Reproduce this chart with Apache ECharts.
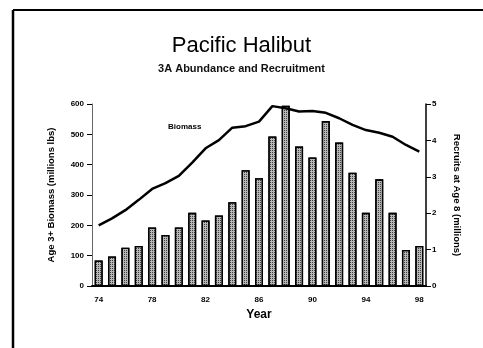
<!DOCTYPE html>
<html>
<head>
<meta charset="utf-8">
<script src="https://cdn.jsdelivr.net/npm/echarts@6/dist/echarts.min.js"></script>
<style>
  html, body { margin: 0; padding: 0; background: #fff; }
  #chart { width: 483px; height: 348px; }
</style>
</head>
<body>
<div id="chart"></div>
<script>
// Survey years (1974–1998)
const years = ['74','75','76','77','78','79','80','81','82','83','84','85','86',
               '87','88','89','90','91','92','93','94','95','96','97','98'];
// Age 3+ biomass, millions of lbs (left axis)
const biomass = [200, 223, 250, 284, 320, 339, 363, 407, 454, 481, 522, 527, 542,
                 593, 586, 575, 577, 571, 553, 531, 514, 505, 492, 465, 443];
// Recruits at age 8, millions (right axis)
const recruits = [0.70, 0.81, 1.05, 1.10, 1.61, 1.40, 1.61, 2.01, 1.80, 1.94, 2.30, 3.18, 2.96,
                  4.11, 4.95, 3.83, 3.53, 4.53, 3.94, 3.11, 2.01, 2.93, 2.01, 0.99, 1.10];
const leftTicks = [0, 100, 200, 300, 400, 500, 600];
const rightTicks = [0, 1, 2, 3, 4, 5];

const chart = echarts.init(document.getElementById('chart'));
const font = 'Liberation Sans, Arial, sans-serif';

chart.setOption({
  animation: false,
  backgroundColor: '#fff',
  title: [
    { text: 'Pacific Halibut', left: 'center', top: 30,
      textStyle: { fontFamily: font, fontSize: 22, fontWeight: 'normal', color: '#000' } },
    { text: '3A Abundance and Recruitment', left: 'center', top: 58,
      textStyle: { fontFamily: font, fontSize: 11, fontWeight: 'bold', color: '#111' } }
  ],
  graphic: [
    { type: 'line', shape: { x1: 13, y1: 10, x2: 483, y2: 10 }, style: { stroke: '#000', lineWidth: 2 } },
    { type: 'line', shape: { x1: 13, y1: 10, x2: 13, y2: 348 }, style: { stroke: '#000', lineWidth: 2.5 } },
    { type: 'text', left: 168, top: 123,
      style: { text: 'Biomass', font: 'bold 8px ' + font, fill: '#000' } }
  ],
  grid: { left: 92, right: 57, top: 104, bottom: 62 },
  xAxis: {
    type: 'category',
    data: years,
    boundaryGap: true,
    name: 'Year',
    nameLocation: 'middle',
    nameGap: 23,
    nameTextStyle: { fontFamily: font, fontSize: 12, fontWeight: 'bold', color: '#000' },
    axisLine: { lineStyle: { color: '#000', width: 2 } },
    axisTick: { alignWithLabel: true, interval: 0, length: 4, lineStyle: { color: '#000' } },
    axisLabel: { interval: 3, fontFamily: font, fontSize: 8, fontWeight: 'bold', color: '#000', margin: 10 }
  },
  yAxis: [
    {
      type: 'value', min: leftTicks[0], max: leftTicks[leftTicks.length - 1], interval: 100,
      name: 'Age 3+ Biomass (millions lbs)',
      nameLocation: 'middle', nameGap: 36, nameRotate: 90,
      nameTextStyle: { fontFamily: font, fontSize: 9.5, fontWeight: 'bold', color: '#000' },
      axisLine: { show: true, lineStyle: { color: '#666', width: 1 } },
      axisTick: { show: true, length: 5, lineStyle: { color: '#000' } },
      axisLabel: { fontFamily: font, fontSize: 8, fontWeight: 'bold', color: '#000', margin: 8 },
      splitLine: { show: false }
    },
    {
      type: 'value', min: rightTicks[0], max: rightTicks[rightTicks.length - 1], interval: 1,
      name: 'Recruits at Age 8 (millions)',
      nameLocation: 'middle', nameGap: 26, nameRotate: -90,
      nameTextStyle: { fontFamily: font, fontSize: 9.5, fontWeight: 'bold', color: '#000' },
      axisLine: { show: true, lineStyle: { color: '#000', width: 1.5 } },
      axisTick: { show: true, length: 5, lineStyle: { color: '#000' } },
      axisLabel: { fontFamily: font, fontSize: 8, fontWeight: 'bold', color: '#000', margin: 6 },
      splitLine: { show: false }
    }
  ],
  series: [
    {
      type: 'bar', name: 'Recruits', yAxisIndex: 1, data: recruits, barWidth: 8,
      itemStyle: {
        color: '#b8b8b8', borderColor: '#000', borderWidth: 1.3,
        decal: { symbol: 'rect', symbolSize: 1, dashArrayX: [1, 1], dashArrayY: [1, 1],
                 color: 'rgba(0,0,0,0.65)', rotation: 0 }
      },
      z: 1
    },
    {
      type: 'line', name: 'Biomass', yAxisIndex: 0, data: biomass,
      showSymbol: false, symbol: 'none',
      lineStyle: { color: '#000', width: 2.5 },
      z: 3
    }
  ]
});
</script>
</body>
</html>
